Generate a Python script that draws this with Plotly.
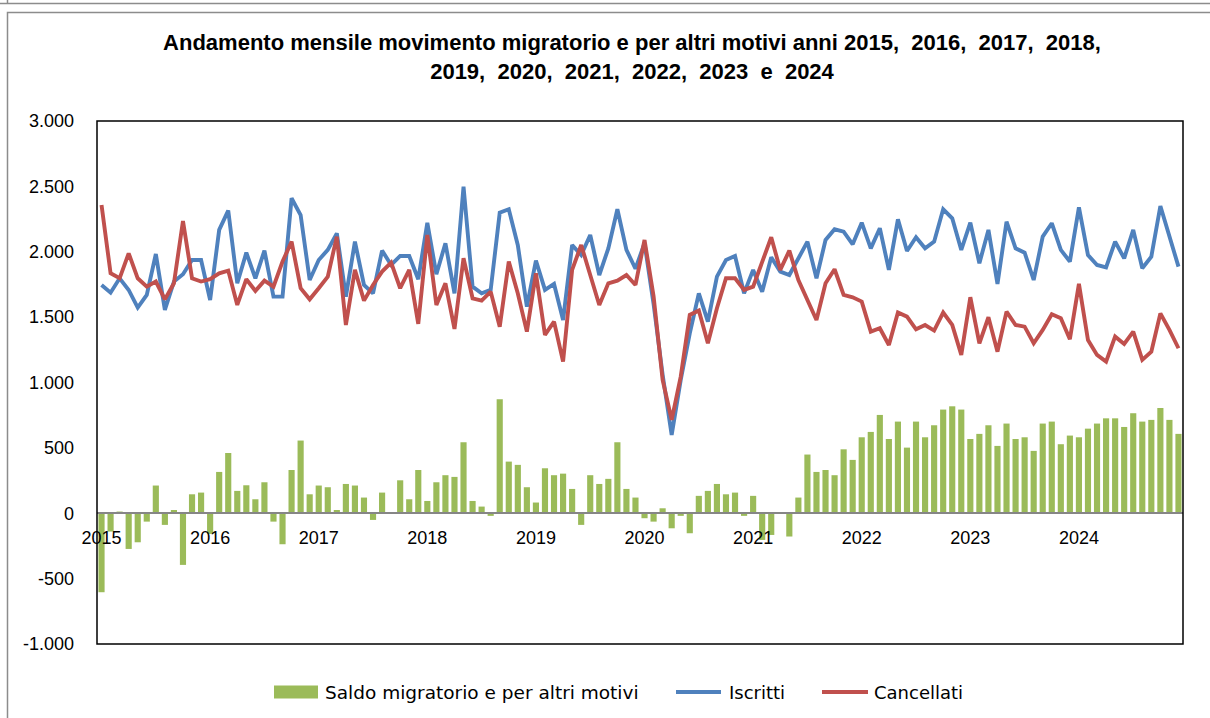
import plotly.graph_objects as go

# ---------------- data ----------------
years = ["2015", "2016", "2017", "2018", "2019", "2020", "2021", "2022", "2023", "2024"]

iscritti = [
    1746, 1687, 1797, 1708, 1573, 1670, 1983, 1555, 1772, 1828, 1937, 1937,
    1631, 2167, 2315, 1759, 1993, 1797, 2009, 1657, 1657, 2409, 2281, 1784,
    1937, 2014, 2141, 1657, 2077, 1746, 1682, 2009, 1899, 1968, 1968, 1790,
    2222, 1828, 2065, 1682, 2498, 1733, 1682, 1708, 2299, 2325, 2050, 1580,
    1932, 1708, 1754, 1478, 2052, 1975, 2128, 1822, 2026, 2325, 2014, 1870,
    2065, 1600, 1060, 599, 1020, 1376, 1682, 1466, 1810, 1937, 1968, 1682,
    1861, 1695, 1958, 1848, 1822, 1950, 2077, 1797, 2090, 2172, 2154, 2057,
    2222, 2026, 2180, 1861, 2248, 2006, 2111, 2026, 2077, 2325, 2256, 2014,
    2222, 1912, 2167, 1754, 2230, 2026, 1993, 1784, 2116, 2218, 2014, 1925,
    2340, 1975, 1899, 1881, 2077, 1950, 2167, 1874, 1963, 2350, 2128, 1886,
]

cancellati = [
    2358, 1835, 1797, 1988, 1797, 1733, 1772, 1636, 1759, 2235, 1797, 1772,
    1790, 1835, 1856, 1593, 1790, 1700, 1779, 1733, 1925, 2077, 1721, 1636,
    1721, 1810, 2116, 1440, 1861, 1626, 1746, 1848, 1917, 1721, 1861, 1448,
    2128, 1593, 1759, 1410, 1950, 1644, 1626, 1695, 1427, 1925, 1680, 1389,
    1835, 1364, 1466, 1160, 1861, 2052, 1822, 1593, 1759, 1779, 1822, 1746,
    2090, 1660, 1020, 714, 1045, 1517, 1550, 1300, 1568, 1797, 1797, 1708,
    1733, 1925, 2111, 1861, 2009, 1784, 1631, 1478, 1759, 1866, 1670, 1652,
    1619, 1389, 1415, 1287, 1535, 1504, 1407, 1440, 1397, 1535, 1440, 1211,
    1652, 1300, 1499, 1236, 1542, 1440, 1427, 1300, 1402, 1522, 1491, 1331,
    1754, 1325, 1211, 1160, 1351, 1295, 1389, 1173, 1236, 1529, 1402, 1262,
]

saldo = [
    -604, -140, 13, -273, -222, -64, 212, -89, 25, -395, 145, 158,
    -158, 316, 461, 171, 214, 107, 237, -64, -237, 331, 556, 145,
    212, 199, 25, 224, 212, 120, -51, 158, 0, 252, 107, 331,
    94, 237, 291, 278, 543, 94, 51, -20, 872, 395, 370, 199,
    82, 344, 291, 303, 186, -89, 291, 224, 263, 543, 186, 120,
    -38, -64, 38, -115, -20, -153, 133, 171, 224, 145, 158, -20,
    133, -204, -166, 0, -178, 120, 449, 316, 331, 291, 489, 408,
    581, 622, 752, 568, 701, 502, 701, 581, 673, 793, 818, 793,
    568, 607, 673, 515, 686, 568, 581, 477, 686, 701, 528, 594,
    581, 647, 686, 726, 726, 660, 765, 701, 714, 805, 714, 607,
]

y_tickvals = [3000, 2500, 2000, 1500, 1000, 500, 0, -500, -1000]
y_ticktext = ["3.000", "2.500", "2.000", "1.500", "1.000", "500", "0", "-500", "-1.000"]

series_names = ["Saldo migratorio e per altri motivi", "Iscritti", "Cancellati"]
colors = ["#9BBB59", "#4F81BD", "#C0504D"]

title_text = ("Andamento mensile movimento migratorio e per altri motivi anni 2015,\u00a0 2016,\u00a0 2017,\u00a0 2018,"
              "<br>2019,\u00a0 2020,\u00a0 2021,\u00a0 2022,\u00a0 2023\u00a0 e\u00a0 2024")

# ---------------- layout geometry ----------------
W, H = 1210, 718
PL, PR, PT, PB = 97, 1183, 121, 644   # plot area in pixels


def px(x):
    return (x - PL) / (PR - PL)


def py(y):
    return (PB - y) / (PB - PT)


months = list(range(len(iscritti)))

fig = go.Figure()
fig.add_trace(go.Bar(x=months, y=saldo, name=series_names[0],
                     marker=dict(color=colors[0], line=dict(width=0)),
                     showlegend=False))
fig.add_trace(go.Scatter(x=months, y=iscritti, name=series_names[1], mode="lines",
                         line=dict(color=colors[1], width=3.9), showlegend=False))
fig.add_trace(go.Scatter(x=months, y=cancellati, name=series_names[2], mode="lines",
                         line=dict(color=colors[2], width=3.9), showlegend=False))

zero_pos = (0 - (-1000)) / 4000.0

fig.update_layout(
    width=W, height=H,
    margin=dict(l=PL, r=W - PR, t=PT, b=H - PB, pad=0),
    paper_bgcolor="white", plot_bgcolor="white",
    bargap=0.32,
    font=dict(family="Liberation Sans, Arial, sans-serif", size=18, color="black"),
    title=dict(text=title_text, xref="container", x=632 / W, xanchor="center",
               yref="container", y=1 - 50 / H, yanchor="middle",
               font=dict(family="Liberation Sans, Arial, sans-serif", size=22, color="black",
                         weight="bold")),
    xaxis=dict(range=[-0.5, len(months) - 0.5], anchor="free", position=zero_pos,
               tickvals=[12 * i for i in range(len(years))], ticktext=years,
               showgrid=False, zeroline=False, showline=True, linecolor="#868686",
               linewidth=1.5, ticks="", ticklabelstandoff=8,
               tickfont=dict(size=18)),
    yaxis=dict(range=[-1000, 3000], tickvals=y_tickvals, ticktext=y_ticktext,
               showgrid=False, zeroline=False, showline=False, ticks="",
               ticklabelstandoff=22, tickfont=dict(size=18)),
)

shapes = []
# plot area frame
shapes.append(dict(type="rect", xref="paper", yref="paper", x0=0, x1=1, y0=0, y1=1,
                   line=dict(color="black", width=1.5), layer="above"))
# outer chart frame
shapes.append(dict(type="rect", xref="paper", yref="paper", x0=px(7.5), x1=px(1230),
                   y0=py(740), y1=py(12.5), line=dict(color="#8c8c8c", width=1.5),
                   layer="above"))
# bottom of the frame above
shapes.append(dict(type="line", xref="paper", yref="paper", x0=px(-5), x1=px(1230),
                   y0=py(3.5), y1=py(3.5), line=dict(color="#8c8c8c", width=1.5)))
shapes.append(dict(type="line", xref="paper", yref="paper", x0=px(7.5), x1=px(7.5),
                   y0=py(-5), y1=py(3.5), line=dict(color="#8c8c8c", width=1.5)))

# legend (custom keys)
ly = 692
shapes.append(dict(type="rect", xref="paper", yref="paper", x0=px(274), x1=px(318),
                   y0=py(698.5), y1=py(685.5), fillcolor=colors[0], line=dict(width=0)))
shapes.append(dict(type="line", xref="paper", yref="paper", x0=px(676), x1=px(721),
                   y0=py(ly), y1=py(ly), line=dict(color=colors[1], width=4)))
shapes.append(dict(type="line", xref="paper", yref="paper", x0=px(822), x1=px(868),
                   y0=py(ly), y1=py(ly), line=dict(color=colors[2], width=4)))
fig.update_layout(shapes=shapes)

for name, x0, size in zip(series_names, [323, 727, 872], [18.5, 18, 18]):
    fig.add_annotation(text=name, xref="paper", yref="paper", x=px(x0), y=py(ly),
                       xanchor="left", yanchor="middle", showarrow=False,
                       font=dict(family="DejaVu Sans, sans-serif", size=size, color="black"))

fig.write_html("out.html", config={"displayModeBar": False},
               post_script="document.body.style.margin='0';")
